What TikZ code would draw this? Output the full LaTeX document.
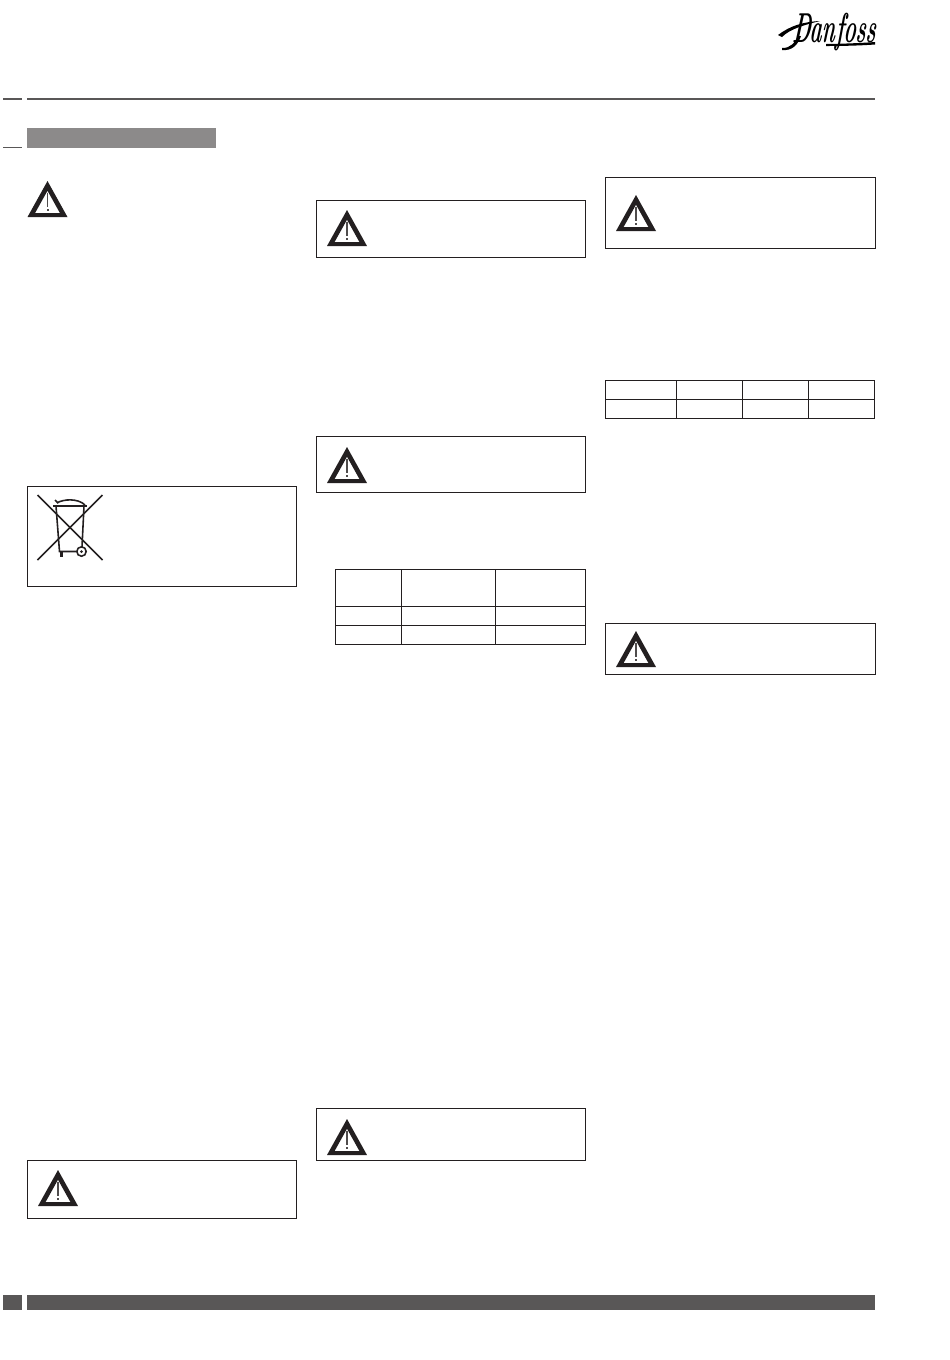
\documentclass[tikz,border=0pt]{standalone}
\usepackage{xcolor}
\usetikzlibrary{positioning}
\usetikzlibrary{calc}
\definecolor{rulegrey}{HTML}{595757}
\definecolor{bargrey}{HTML}{8C8A8A}
\definecolor{linedark}{HTML}{231F20}
\tikzset{
  framebox/.style={draw=linedark,line width=0.6pt},
  tablerule/.style={draw=linedark,line width=0.65pt},
  binline/.style={draw=linedark,line width=0.9pt},
  warnsign/.pic={
    \fill[linedark,even odd rule] (0,0) -- (20,-36) -- (40,0) -- cycle
      (7.6,-4) -- (32.4,-4) -- (20,-26.3) -- cycle;
    \draw[linedark!80,line width=0.75pt] (20,-24.5) -- (20,-10);
    \fill[linedark!80] (19,-8) rectangle (21,-5.6);
  }
}
\begin{document}
\begin{tikzpicture}[x=0.02cm,y=-0.02cm]
  \useasboundingbox[fill=white] (0,0) rectangle (950,1360);
  % head
  \node[inner sep=0pt,anchor=base,xscale=0.68,yscale=1.4,xslant=0.2,transform shape,
    font=\bfseries\itshape\fontsize{17pt}{17pt}\selectfont] (logo) at (833.5,42) {Danfoss};
  \fill[black] (778,35) .. controls (790,26) and (802,22) .. (820,21)
    .. controls (804,25) and (790,29) .. (782,37) -- cycle;
  \fill[black] (782,48) .. controls (790,48.5) and (796,42) .. (798,36) -- (801,36)
    .. controls (798,45) and (792,51) .. (782,50) -- cycle;
  \fill[black] (826,44) .. controls (842,43.7) and (858,43.3) .. (875,42) -- (875,44.5)
    .. controls (858,45.7) and (842,46) .. (826,46) -- cycle;
  \draw[rulegrey,line width=1.1pt] (27,99) -- (875,99);
  \draw[rulegrey,line width=1.1pt] (3,99) -- (22,99);
  \draw[rulegrey,line width=1.1pt] (3,147.5) -- (22,147.5);
  \fill[bargrey] (27,128) rectangle (216,148);
  \fill[rulegrey] (27,1295) rectangle (875,1310);
  \fill[rulegrey] (3,1295) rectangle (22,1310);
  % frames
  \foreach \xa/\ya/\xb/\yb in {27.5/486.5/296.5/586.5, 27.5/1160.5/296.5/1218.5, 316.5/200.5/585.5/257.5,
      316.5/436.5/585.5/492.5, 316.5/1108.5/585.5/1160.5, 605.5/177.5/875.5/248.5, 605.5/623.5/875.5/674.5}
    \draw[framebox] (\xa,\ya) rectangle (\xb,\yb);
  % signs
  \foreach \xa/\ya in {27.5/217, 38/1206, 327/246, 327/483, 327/1155, 616/231, 616/667}
    \pic at (\xa,\ya) {warnsign};
  % bin
  \draw[binline] (37.5,495) -- (102.5,560);
  \draw[binline] (102.5,495) -- (37.5,560);
  \draw[binline] (53,506) -- (87,506);
  \draw[binline] (56,506) -- (59.5,551.5) -- (76,551.5);
  \draw[binline] (84,506) -- (82,547);
  \draw[binline] (57,503) .. controls (63,499) and (78,498) .. (85,505);
  \draw[binline] (55,500) -- (58,503);
  \draw[binline] (81.5,551.5) circle (4.7);
  \fill[linedark] (81.5,551.5) circle (1.5);
  \fill[linedark] (60,552) rectangle (63,557);
  % table left
  \draw[tablerule] (335.5,569.5) rectangle (585.5,644.5);
  \foreach \yy in {606.5,625.5} \draw[tablerule] (335.5,\yy) -- (585.5,\yy);
  \foreach \xx in {401.5,495.5} \draw[tablerule] (\xx,569.5) -- (\xx,644.5);
  % table right
  \draw[tablerule] (605.5,380.5) rectangle (874.5,418.5);
  \draw[tablerule] (605.5,399.5) -- (874.5,399.5);
  \foreach \xx in {676.5,742.5,808.5} \draw[tablerule] (\xx,380.5) -- (\xx,418.5);
\end{tikzpicture}
\end{document}
